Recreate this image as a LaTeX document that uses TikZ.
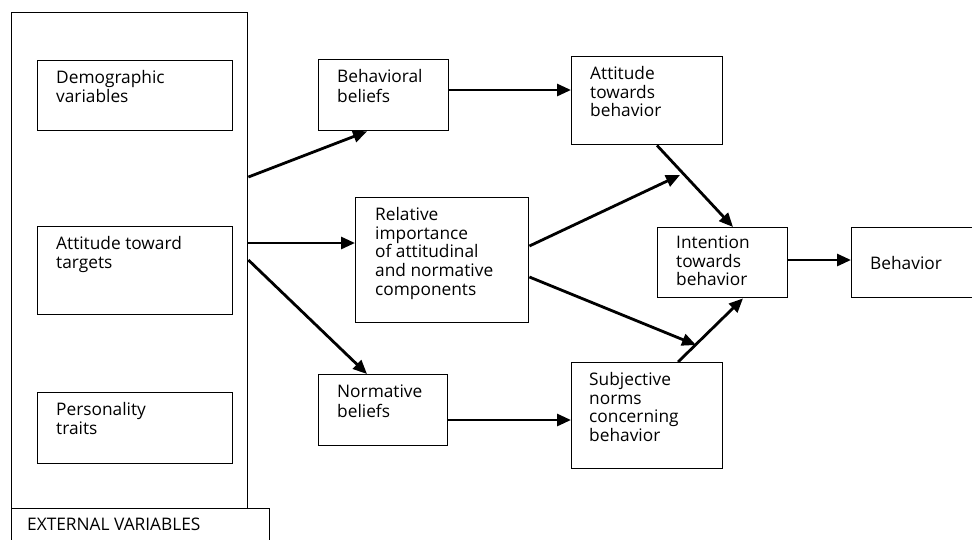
\documentclass[tikz,border=0pt]{standalone}
\usepackage{fontspec}
\setmainfont{Open Sans}
\usetikzlibrary{arrows.meta}

\tikzset{
  box/.style={draw, line width=1.4pt, inner sep=0pt, anchor=north west},
  lbl/.style={anchor=north west, align=left, inner sep=0pt,
              font=\fontsize{17.3}{18.8}\selectfont},
  arr/.style={line width=2.8pt, -{Triangle[length=14pt,width=12pt]}}
}

\begin{document}
\begin{tikzpicture}[x=1pt, y=-1pt]
  \clip (0,0) rectangle (972,539);
  \fill[white] (0,0) rectangle (972,539);

  % external variables column
  \node[box, minimum width=236pt, minimum height=496pt] (outer) at (11,12) {};
  \node[box, minimum width=258pt, minimum height=60pt] (extbox) at (11,508) {};
  \node[lbl] (ext) at ([shift={(16,9)}]extbox.north west) {\strut EXTERNAL VARIABLES};

  \node[box, minimum width=195pt, minimum height=70pt] (demo) at (37,60) {};
  \node[lbl] (demoT) at ([shift={(19,10)}]demo.north west) {\strut Demographic\\variables};

  \node[box, minimum width=195pt, minimum height=88pt] (targ) at (37,226) {};
  \node[lbl] (targT) at ([shift={(19,10)}]targ.north west) {\strut Attitude toward\\targets};

  \node[box, minimum width=195pt, minimum height=71pt] (pers) at (37,392) {};
  \node[lbl] (persT) at ([shift={(19,10)}]pers.north west) {\strut Personality\\traits};

  % beliefs and weighting
  \node[box, minimum width=130pt, minimum height=71pt] (bb) at (318,59) {};
  \node[lbl] (bbT) at ([shift={(19,10)}]bb.north west) {\strut Behavioral\\beliefs};

  \node[box, minimum width=173pt, minimum height=125pt] (ri) at (355,197) {};
  \node[lbl] (riT) at ([shift={(20,10)}]ri.north west) {\strut Relative\\importance\\of attitudinal\\and normative\\components};

  \node[box, minimum width=129pt, minimum height=71pt] (nb) at (318,374) {};
  \node[lbl] (nbT) at ([shift={(19,10)}]nb.north west) {\strut Normative\\beliefs};

  % attitude, norms, intention, behaviour
  \node[box, minimum width=151pt, minimum height=88pt] (att) at (571,56) {};
  \node[lbl] (attT) at ([shift={(19,10)}]att.north west) {\strut Attitude\\towards\\behavior};

  \node[box, minimum width=151pt, minimum height=106pt] (sn) at (571,362) {};
  \node[lbl] (snT) at ([shift={(18,10)}]sn.north west) {\strut Subjective\\norms\\concerning\\behavior};

  \node[box, minimum width=130pt, minimum height=70pt] (it) at (657,227) {};
  \node[lbl] (itT) at ([shift={(19,8)}]it.north west) {\strut Intention\\towards\\behavior};

  \node[box, minimum width=150pt, minimum height=70pt] (bh) at (851,227) {};
  \node[lbl, anchor=west] (bhT) at ([xshift=19pt]bh.west) {Behavior};

  % free arrow ends
  \coordinate (p1) at (680,175);
  \coordinate (p2) at (696,345);

  % connectors
  \draw[arr] ([yshift=-165pt]outer.north east) -- ([xshift=49pt]bb.south west);
  \draw[arr] ([yshift=-231pt]outer.north east) -- ([yshift=-46pt]ri.north west);
  \draw[arr] ([yshift=-248pt]outer.north east) -- ([xshift=49pt]nb.north west);
  \draw[arr] ([yshift=-31pt]bb.north east) -- ([yshift=-34pt]att.north west);
  \draw[arr] ([yshift=-49pt]ri.north east) -- (p1);
  \draw[arr] ([yshift=-80pt]ri.north east) -- (p2);
  \draw[arr] ([xshift=86pt]att.south west) -- ([xshift=76pt]it.north west);
  \draw[arr] ([xshift=107pt]sn.north west) -- ([xshift=86pt]it.south west);
  \draw[arr] ([yshift=-33pt]it.north east) -- ([yshift=-33pt]bh.north west);
  \draw[arr] ([yshift=-46pt]nb.north east) -- ([yshift=-58pt]sn.north west);
\end{tikzpicture}
\end{document}
